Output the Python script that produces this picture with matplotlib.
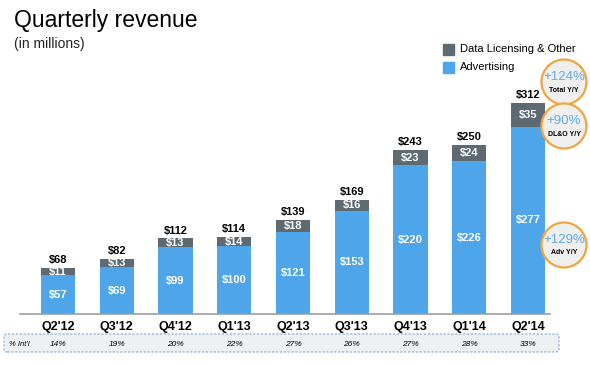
import matplotlib.pyplot as plt
from matplotlib.patches import FancyBboxPatch, Circle

plt.rcParams['font.family'] = ['Liberation Sans', 'DejaVu Sans']

quarters = ["Q2'12", "Q3'12", "Q4'12", "Q1'13", "Q2'13", "Q3'13", "Q4'13", "Q1'14", "Q2'14"]
advertising = [57, 69, 99, 100, 121, 153, 220, 226, 277]
licensing = [11, 13, 13, 14, 18, 16, 23, 24, 35]
totals = [68, 82, 112, 114, 139, 169, 243, 250, 312]
intl_share = ["14%", "19%", "20%", "22%", "27%", "26%", "27%", "28%", "33%"]
growth_labels = ["+124%", "+90%", "+129%"]
growth_names = ["Total Y/Y", "DL&O Y/Y", "Adv Y/Y"]

blue = "#4ea5ea"
gray = "#5e6a72"

fig = plt.figure(figsize=(5.9, 3.65), dpi=100)
ax = fig.add_axes([20 / 590, 1 - 314 / 365, 530 / 590, 236.6 / 365])
x = list(range(len(quarters)))
w = 0.58
ax.bar(x, advertising, width=w, color=blue, zorder=2)
ax.bar(x, licensing, width=w, bottom=advertising, color=gray, zorder=2)
ax.set_xlim(-0.647, 8.374)
ax.set_ylim(0, 350)
for s in ["top", "right", "left"]:
    ax.spines[s].set_visible(False)
ax.spines["bottom"].set_color("#9aa0a6")
ax.spines["bottom"].set_linewidth(1.2)
ax.set_yticks([])
ax.set_xticks(x)
ax.set_xticklabels(quarters, fontsize=9, fontweight="bold")
ax.tick_params(axis="x", length=0, pad=5)

for i in x:
    ax.text(i, advertising[i] / 2, "$%d" % advertising[i], ha="center", va="center",
            color="white", fontsize=8, fontweight="bold")
    ax.text(i, advertising[i] + licensing[i] / 2, "$%d" % licensing[i], ha="center",
            va="center", color="white", fontsize=8, fontweight="bold")
    ax.text(i, totals[i] + 4, "$%d" % totals[i], ha="center", va="bottom",
            fontsize=8, fontweight="bold")

# title
fig.text(14 / 590, 1 - 20 / 365, "Quarterly revenue", fontsize=16.5, va="center")
fig.text(14 / 590, 1 - 44 / 365, "(in millions)", fontsize=10, va="center", color="#222222")

# legend
fig.patches.append(plt.Rectangle((443 / 590, 1 - 55 / 365), 11 / 590, 11 / 365,
                                 transform=fig.transFigure, color=gray))
fig.patches.append(plt.Rectangle((443 / 590, 1 - 73 / 365), 11 / 590, 11 / 365,
                                 transform=fig.transFigure, color=blue))
fig.text(460 / 590, 1 - 49 / 365, "Data Licensing & Other", fontsize=8, va="center")
fig.text(460 / 590, 1 - 67 / 365, "Advertising", fontsize=8, va="center")

# growth circles
circle_y = [82, 126, 245]
for cy, lab, name in zip(circle_y, growth_labels, growth_names):
    fig.patches.append(Circle((564, 365 - cy), 22.5, transform=None,
                              facecolor="#efefef", edgecolor="#f0a640", linewidth=1.6))
    fig.text(564 / 590, 1 - (cy - 5) / 365, lab, color="#62aae8", fontsize=9.5,
             ha="center", va="center")
    fig.text(564 / 590, 1 - (cy + 8) / 365, name, fontsize=5, fontweight="bold",
             ha="center", va="center")

# international share row
box = FancyBboxPatch((4 / 590, 1 - 352 / 365), 555 / 590, 18 / 365,
                     boxstyle="round,pad=0,rounding_size=0.006", transform=fig.transFigure,
                     facecolor="#eef0f3", edgecolor="#7fa9d6", linewidth=0.8,
                     linestyle=(0, (2, 1.5)))
fig.patches.append(box)
fig.text(9 / 590, 1 - 344 / 365, "% Int'l", fontsize=5.5, style="italic", va="center")
for i, v in enumerate(intl_share):
    px = ax.transData.transform((i, 0))[0]
    fig.text(px / 590, 1 - 344 / 365, v, fontsize=6, style="italic", ha="center", va="center")

fig.savefig("out.png", dpi=100)
